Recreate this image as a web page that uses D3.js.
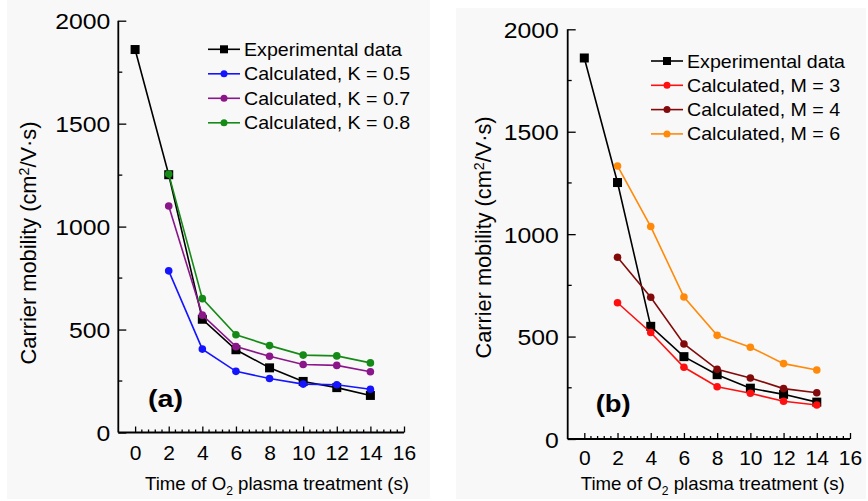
<!DOCTYPE html>
<html>
<head>
<meta charset="utf-8">
<script src="https://cdn.jsdelivr.net/npm/d3@7"></script>
<style>
  body { margin: 0; background: #fff; }
  svg { display: block; font-family: "Liberation Sans", Arial, sans-serif; }
</style>
</head>
<body>
<div id="chart"></div>
<script>
// data
var times = [0, 2, 4, 6, 8, 10, 12, 14];
var calcTimes = [2, 4, 6, 8, 10, 12, 14];
var experimental = [1860, 1252, 550, 402, 314, 248, 218, 180];
var calcK05 = [785, 405, 297, 262, 235, 232, 210];
var calcK07 = [1100, 570, 417, 370, 330, 326, 295];
var calcK08 = [1255, 650, 475, 422, 376, 372, 338];
var calcM3 = [665, 520, 350, 255, 223, 184, 166];
var calcM4 = [887, 692, 464, 340, 298, 246, 226];
var calcM6 = [1333, 1037, 693, 506, 448, 368, 337];
var xTicks = [0, 2, 4, 6, 8, 10, 12, 14, 16];
var yTicks = [0, 500, 1000, 1500, 2000];

var svg = d3.select('#chart').append('svg')
  .attr('width', 868)
  .attr('height', 501);

function zip(xs, ys) {
  return xs.map(function (x, i) { return [x, ys[i]]; });
}

function drawPanel(p) {
  svg.append('rect')
    .attr('x', p.bg[0]).attr('y', p.bg[1])
    .attr('width', p.bg[2]).attr('height', p.bg[3])
    .attr('fill', '#f8f8f8');

  var x = d3.scaleLinear().domain([-1, 16]).range([p.left, p.right]);
  var y = d3.scaleLinear().domain([0, 2000]).range([p.bottom, p.top]);
  var g = svg.append('g');

  // minor ticks (inward)
  var xMinor = d3.range(0, 16.01, 0.4).filter(function (v) { return Math.abs(v / 2 - Math.round(v / 2)) > 0.01; });
  g.selectAll('.xminor').data(xMinor).enter().append('line')
    .attr('x1', function (d) { return x(d); }).attr('x2', function (d) { return x(d); })
    .attr('y1', p.bottom).attr('y2', p.bottom - 3)
    .attr('stroke', '#000').attr('stroke-width', 1.3);
  g.selectAll('.yminor').data([250, 750, 1250, 1750]).enter().append('line')
    .attr('y1', function (d) { return y(d); }).attr('y2', function (d) { return y(d); })
    .attr('x1', p.left).attr('x2', p.left + 4)
    .attr('stroke', '#000').attr('stroke-width', 1.3);

  var xAxis = d3.axisBottom(x).tickValues(xTicks).tickSize(-6).tickPadding(0).tickFormat(d3.format('d'));
  var yAxis = d3.axisLeft(y).tickValues(yTicks).tickSize(-8).tickPadding(0).tickFormat(d3.format('d'));

  var gx = g.append('g').attr('transform', 'translate(0,' + p.bottom + ')').call(xAxis);
  var gy = g.append('g').attr('transform', 'translate(' + p.left + ',0)').call(yAxis);
  [gx, gy].forEach(function (a) {
    a.select('.domain').attr('stroke', '#000').attr('stroke-width', 1.8).attr('d',
      a === gx ? 'M' + p.left + ',0H' + p.right : 'M0,' + p.bottom + 'V' + p.top);
    a.selectAll('.tick line').attr('stroke', '#000').attr('stroke-width', 1.3);
    a.selectAll('.tick text').attr('fill', '#000').attr('font-family', '"Liberation Sans", Arial, sans-serif');
  });
  gx.selectAll('.tick text').attr('font-size', 21).attr('y', p.xLabelDy).attr('dy', 0);
  gy.selectAll('.tick text').attr('font-size', 22.5).attr('x', 0).attr('dy', '0.36em')
    .attr('transform', 'translate(' + (-p.yLabelGap) + ',0) scale(1.1,1)')
    .attr('text-anchor', 'end');

  // axis titles
  var yt = svg.append('text')
    .attr('transform', 'translate(' + p.yTitleX + ',' + p.yTitleY + ') rotate(-90)')
    .attr('text-anchor', 'middle').attr('font-size', 21.5)
    .attr('textLength', p.yTitleLen).attr('lengthAdjust', 'spacingAndGlyphs');
  yt.append('tspan').text('Carrier mobility (cm');
  yt.append('tspan').attr('font-size', 14).attr('dy', -7).text('2');
  yt.append('tspan').attr('dy', 7).text('/V\u00b7s)');

  var xt = svg.append('text')
    .attr('x', p.xTitleX).attr('y', p.xTitleY)
    .attr('text-anchor', 'start').attr('font-size', 18.5)
    .attr('textLength', p.xTitleLen).attr('lengthAdjust', 'spacingAndGlyphs');
  xt.append('tspan').text('Time of O');
  xt.append('tspan').attr('font-size', 12).attr('dy', 5).text('2');
  xt.append('tspan').attr('dy', -5).text(' plasma treatment (s)');

  svg.append('text')
    .attr('x', p.tagX).attr('y', p.tagY)
    .attr('font-size', 24).attr('font-weight', 'bold')
    .attr('textLength', 35).attr('lengthAdjust', 'spacingAndGlyphs')
    .text(p.tag);

  var line = d3.line().x(function (d) { return x(d[0]); }).y(function (d) { return y(d[1]); });

  p.series.forEach(function (s) {
    var pts = zip(s.xs, s.ys);
    g.append('path').datum(pts)
      .attr('d', line).attr('fill', 'none')
      .attr('stroke', s.color).attr('stroke-width', 1.6);
    if (s.square) {
      g.selectAll(null).data(pts).enter().append('rect')
        .attr('x', function (d) { return x(d[0]) - 4.5; })
        .attr('y', function (d) { return y(d[1]) - 4.5; })
        .attr('width', 9).attr('height', 9).attr('fill', s.color);
    } else {
      g.selectAll(null).data(pts).enter().append('circle')
        .attr('cx', function (d) { return x(d[0]); })
        .attr('cy', function (d) { return y(d[1]); })
        .attr('r', 3.8).attr('fill', s.color);
    }
  });

  // legend
  var lg = svg.append('g');
  p.series.forEach(function (s, i) {
    var ly = p.legY + i * p.legStep;
    lg.append('line')
      .attr('x1', p.legX).attr('x2', p.legX + 32)
      .attr('y1', ly).attr('y2', ly)
      .attr('stroke', s.color).attr('stroke-width', 1.6);
    if (s.square) {
      lg.append('rect').attr('x', p.legX + 16 - 4).attr('y', ly - 4)
        .attr('width', 8).attr('height', 8).attr('fill', s.color);
    } else {
      lg.append('circle').attr('cx', p.legX + 16).attr('cy', ly)
        .attr('r', 3.5).attr('fill', s.color);
    }
    lg.append('text')
      .attr('transform', 'translate(' + (p.legX + 36) + ',' + (ly + 6.5) + ') scale(1.09,1)')
      .attr('font-size', 18).attr('fill', '#000')
      .text(s.name);
  });
}

drawPanel({
  bg: [7, 0, 423, 499],
  left: 118.3, right: 404, top: 20.7, bottom: 432.5,
  xLabelDy: 27, yLabelGap: 8,
  yTitleX: 36, yTitleY: 243, yTitleLen: 243,
  xTitleX: 145, xTitleY: 490, xTitleLen: 264,
  tag: '(a)', tagX: 148, tagY: 407,
  legX: 208, legY: 49.3, legStep: 24.5,
  series: [
    { name: 'Experimental data', xs: times, ys: experimental, color: '#000000', square: true },
    { name: 'Calculated, K = 0.5', xs: calcTimes, ys: calcK05, color: '#1414ff' },
    { name: 'Calculated, K = 0.7', xs: calcTimes, ys: calcK07, color: '#8a168a' },
    { name: 'Calculated, K = 0.8', xs: calcTimes, ys: calcK08, color: '#168a16' }
  ]
});

drawPanel({
  bg: [456, 8, 410, 491],
  left: 567.7, right: 850, top: 29.3, bottom: 439,
  xLabelDy: 26, yLabelGap: 9,
  yTitleX: 491, yTitleY: 237.5, yTitleLen: 242,
  xTitleX: 580.7, xTitleY: 489.5, xTitleLen: 264,
  tag: '(b)', tagX: 595.7, tagY: 412,
  legX: 651, legY: 61, legStep: 24.3,
  series: [
    { name: 'Experimental data', xs: times, ys: experimental, color: '#000000', square: true },
    { name: 'Calculated, M = 3', xs: calcTimes, ys: calcM3, color: '#ff1010' },
    { name: 'Calculated, M = 4', xs: calcTimes, ys: calcM4, color: '#820a0a' },
    { name: 'Calculated, M = 6', xs: calcTimes, ys: calcM6, color: '#ff8a0a' }
  ]
});
</script>
</body>
</html>
